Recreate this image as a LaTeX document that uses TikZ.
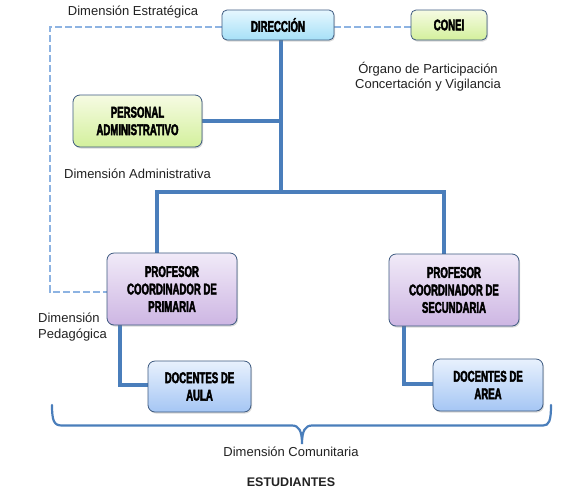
\documentclass[tikz,border=0pt]{standalone}
\usepackage{fontspec}
\setmainfont{Liberation Sans}
\newfontfamily\boxfont{Liberation Sans}[FakeStretch=0.62,FakeBold=2.5]
\usetikzlibrary{shadows,backgrounds}
\definecolor{lineblue}{HTML}{4A7EBB}
\definecolor{dashblue}{HTML}{8DB3E2}
\definecolor{boxborder}{HTML}{3D5A80}
\definecolor{txtcol}{HTML}{222222}
\definecolor{cyanT}{HTML}{E6F7FF}
\definecolor{cyanB}{HTML}{A6E0F7}
\definecolor{grnT}{HTML}{F6FBE3}
\definecolor{grnB}{HTML}{D3F09C}
\definecolor{purT}{HTML}{F1EAF8}
\definecolor{purB}{HTML}{CDB6E3}
\definecolor{bluT}{HTML}{E8F1FD}
\definecolor{bluB}{HTML}{A5C6F4}
\tikzset{
  box/.style={draw=boxborder, line width=0.8pt, rounded corners=7pt, align=center,
    font=\boxfont\bfseries\fontsize{15.5}{17.5}\selectfont, inner sep=0pt, text=black,
    drop shadow={shadow xshift=1pt, shadow yshift=-1.5pt, opacity=0.3}},
  cyanbox/.style={box, top color=cyanT, bottom color=cyanB, rounded corners=5pt},
  grnbox/.style={box, top color=grnT, bottom color=grnB},
  purbox/.style={box, top color=purT, bottom color=purB},
  blubox/.style={box, top color=bluT, bottom color=bluB},
  conn/.style={draw=lineblue, line width=3.3pt},
  dashconn/.style={draw=dashblue, line width=1.3pt, dash pattern=on 7pt off 3pt},
  bracestyle/.style={draw=lineblue, line width=2.2pt, line cap=round},
  lbl/.style={inner sep=0pt, text=txtcol, font=\fontsize{13}{15}\selectfont}
}
\begin{document}
\begin{tikzpicture}[x=1pt,y=-1pt]
\begin{scope}[on background layer]
\fill[white] (0,0) rectangle (567,496);
\end{scope}
\useasboundingbox (0,0) rectangle (567,496);

% coordinates
\coordinate (hub) at (281,192);
\coordinate (hl) at (157,192);
\coordinate (hr) at (444,192);
\coordinate (ca) at (120,385);
\coordinate (cs) at (404,384);
\coordinate (d1) at (50,27);
\coordinate (d2) at (50,292);

% boxes
\node[cyanbox, minimum width=112pt, minimum height=30pt] (dir) at (278,25) {DIRECCIÓN};
\node[grnbox, rounded corners=5pt, minimum width=76pt, minimum height=30pt] (conei) at (449,25) {CONEI};
\node[grnbox, minimum width=129pt, minimum height=52pt] (pers) at (137.5,121) {PERSONAL\\ADMINISTRATIVO};
\node[purbox, minimum width=130pt, minimum height=72pt] (pp) at (172,289) {PROFESOR\\COORDINADOR DE\\PRIMARIA};
\node[purbox, minimum width=130pt, minimum height=72pt] (ps) at (454,290) {PROFESOR\\COORDINADOR DE\\SECUNDARIA};
\node[blubox, minimum width=103pt, minimum height=51pt] (da) at (199.5,386.5) {DOCENTES DE\\AULA};
\node[blubox, minimum width=110pt, minimum height=52pt] (dar) at (488,385) {DOCENTES DE\\AREA};

\begin{scope}[on background layer]
\draw[conn] (dir.south -| hub) -- (hub);
\draw[conn] (pers.east) -- (pers.east -| hub);
\draw[conn] (pp.north -| hl) -- (hl) -- (hr) -- (ps.north -| hr);
\draw[conn] (pp.south -| ca) -- (ca) -- (ca -| da.west);
\draw[conn] (ps.south -| cs) -- (cs) -- (cs -| dar.west);
\draw[dashconn] (dir.west |- d1) -- (d1) -- (d2) -- (d2 -| pp.west);
\draw[dashconn] (dir.east |- d1) -- (d1 -| conei.west);
\end{scope}

% brace
\draw[bracestyle] (52,405) .. controls (52,421) and (54,425.5) .. (62,425.5)
  -- (292,425.5) .. controls (299,425.5) and (302,431) .. (302,444)
  .. controls (302,431) and (305,425.5) .. (312,425.5)
  -- (543,425.5) .. controls (549,425.5) and (551,421) .. (551,405);

% labels
\node[lbl] (tEst) at (133,12) {Dimensión Estratégica};
\node[lbl] (tAdm) at (137.5,174) {Dimensión Administrativa};
\node[lbl, align=center] (tOrg) at (428,77) {Órgano de Participación\\Concertación y Vigilancia};
\node[lbl, align=left, anchor=west, font=\fontsize{13}{16}\selectfont] (tPed) at (38,327) {Dimensión\\Pedagógica};
\node[lbl] (tCom) at (291,452) {Dimensión Comunitaria};
\node[lbl, font=\bfseries\fontsize{12.5}{15}\selectfont] (tEstu) at (291,482) {ESTUDIANTES};
\end{tikzpicture}
\end{document}
